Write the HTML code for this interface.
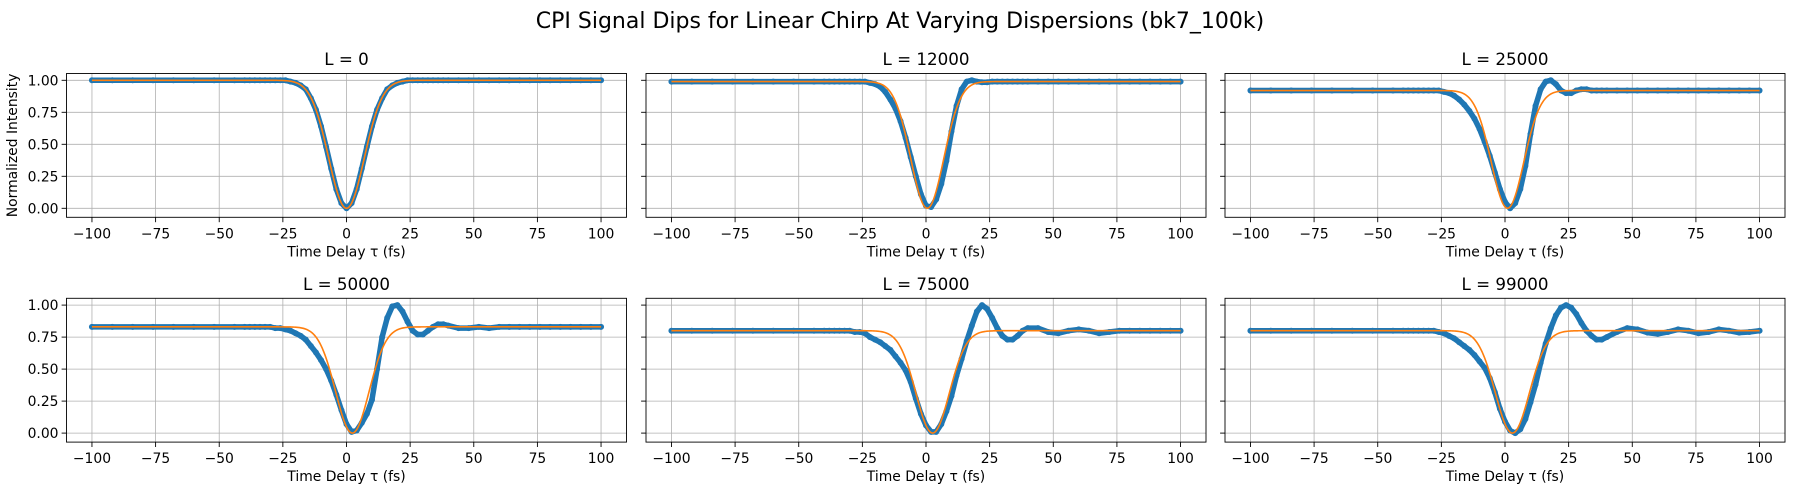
<!DOCTYPE html>
<html><head><meta charset="utf-8"><style>
html,body{margin:0;padding:0;background:#fff;}
svg{display:block;font-family:"DejaVu Sans","Liberation Sans",sans-serif;}
</style></head><body>
<svg id="fig" width="1800" height="500" viewBox="0 0 1800 500">
<rect width="1800" height="500" fill="#fff"/>
<text x="900" y="28" text-anchor="middle" font-size="22" fill="#000">CPI Signal Dips for Linear Chirp At Varying Dispersions (bk7_100k)</text>
</svg>
<script>
const panelTitles = ["L = 0","L = 12000","L = 25000","L = 50000","L = 75000","L = 99000"];
const xTicks = [-100,-75,-50,-25,0,25,50,75,100];
const yTicks = [0,0.25,0.5,0.75,1.0];
const yTickLabels = ["0.00","0.25","0.50","0.75","1.00"];
const delays = [-100,-92,-84,-76,-68,-60,-52,-44,
 -40,-38,-36,-34,-32,-30,-28,-26,-24,-22,-20,-18,-16,-14,-12,-10,-8,-6,-4,-2,0,2,4,6,8,10,12,14,16,18,20,22,24,26,28,30,32,34,36,38,40,
 44,48,52,56,60,64,68,72,76,80,84,88,92,96,100];
const sig0 = [1,1,1,1,1,1,1,1,
 1,1,1,1,1,1,1,1, 1,.99,.98,.96,.93,.86,.77,.64,.48,.31,.15,.04, 0, .04,.15,.31,.48,.64,.77,.86,.93,.96,.98,.99,1, 1,1,1,1,1,1,1,1,
 1,1,1,1,1,1,1,1,1,1,1,1,1,1,1];
const sig12000 = [.99,.99,.99,.99,.99,.99,.99,.99,
 .99,.99,.99,.99,.99,.99,.99,.99, .99,.98,.97,.95,.91,.85,.78,.68,.55,.40,.25,.11, .02, .01,.07,.19,.37,.60,.80,.93,.99,1.00,.99,.985,.985, .99,.99,.99,.99,.99,.99,.99,.99,
 .99,.99,.99,.99,.99,.99,.99,.99,.99,.99,.99,.99,.99,.99,.99];
const sig25000 = [.92,.92,.92,.92,.92,.92,.92,.92,
 .92,.92,.92,.92,.92,.92,.92,.92, .91,.90,.88,.85,.81,.76,.70,.62,.52,.41,.28,.15, .05, .00,.04,.15,.33,.58,.80,.93,.99,1.00,.97,.92,.90, .90,.92,.93,.93,.92,.92,.92,.92,
 .92,.92,.92,.92,.92,.92,.92,.92,.92,.92,.92,.92,.92,.92,.92];
const sig50000 = [.83,.83,.83,.83,.83,.83,.83,.83,
 .83,.83,.83,.83,.83,.83,.82,.82,.81,.80,.78,.76,.73,.68,.63,.57,.50,.41,.30,.18, .07, .01,.02,.08,.15,.26,.50,.75,.90,.99,1.00,.95,.87,.80,.77,.77,.80,.83,.85,.85,.84,
 .82,.82,.83,.82,.83,.83,.83,.83,.83,.83,.83,.83,.83,.83,.83];
const sig75000 = [.80,.80,.80,.80,.80,.80,.80,.80,
 .80,.80,.80,.80,.80,.80,.79,.79,.78,.75,.73,.71,.68,.65,.60,.55,.49,.40,.27,.15, .06, .01,.01,.07,.17,.29,.45,.58,.72,.84,.95,1.00,.97,.90,.82,.76,.73,.73,.76,.80,.82,
 .82,.79,.78,.80,.81,.80,.78,.79,.80,.80,.80,.80,.80,.80,.80];
const sig99000 = [.80,.80,.80,.80,.80,.80,.80,.80,
 .80,.80,.80,.80,.80,.80,.80,.79,.78,.76,.74,.71,.68,.65,.61,.56,.51,.43,.32,.19, .09, .02,.00,.03,.11,.24,.38,.55,.70,.82,.92,.98,1.00,.98,.93,.86,.80,.76,.73,.73,.75,
 .79,.82,.81,.785,.775,.79,.81,.80,.78,.79,.81,.80,.785,.79,.80];
const signals = [sig0,sig12000,sig25000,sig50000,sig75000,sig99000];
const fitBase = [1.00,0.99,0.92,0.83,0.80,0.80];
const fitCenter = [0,0.5,1.0,2.3,2.6,2.9];
const fitSigma = [7.0,6.5,6.4,6.6,6.6,6.7];

const NS="http://www.w3.org/2000/svg";
const svg=document.getElementById('fig');
function mk(tag,attrs,parent){const e=document.createElementNS(NS,tag);for(const k in attrs)e.setAttribute(k,attrs[k]);(parent||svg).appendChild(e);return e;}
const lefts=[66.5,646,1225], tops=[73.5,298.3], W=560, H=143.8;
const xMin=-110,xMax=110,yMin=-0.0703,yMax=1.0531;
function fmt(v){return v<0?"\u2212"+Math.abs(v):String(v);}

for(let p=0;p<6;p++){
  const L=lefts[p%3], T=tops[Math.floor(p/3)];
  const xs=t=>L+(t-xMin)/(xMax-xMin)*W;
  const ys=v=>T+(yMax-v)/(yMax-yMin)*H;
  const g=mk('g',{});
  
  
  // grid
  xTicks.forEach(t=>{const l=mk('line',{x1:xs(t),x2:xs(t),y1:T,y2:T+H,stroke:'#b0b0b0','stroke-width':0.8},g);
    
    });
  yTicks.forEach(v=>{const l=mk('line',{x1:L,x2:L+W,y1:ys(v),y2:ys(v),stroke:'#b0b0b0','stroke-width':0.8},g);
    
    });
  // data
  const sig=signals[p];
  const pts=delays.map((t,i)=>xs(t).toFixed(2)+','+ys(sig[i]).toFixed(2)).join(' ');
  const pl=mk('polyline',{points:pts,fill:'none',stroke:'#1f77b4','stroke-width':5.5,'stroke-linejoin':'round','stroke-linecap':'round'},g);
  
  
  delays.forEach((t,i)=>{const c=mk('circle',{cx:xs(t),cy:ys(sig[i]),r:3,fill:'#1f77b4'},g);
    
    });
  // fit
  const fp=[];
  for(let t=-100;t<=100.001;t+=0.5){const v=fitBase[p]*(1-Math.exp(-Math.pow(t-fitCenter[p],2)/(2*fitSigma[p]*fitSigma[p])));fp.push(xs(t).toFixed(2)+','+ys(v).toFixed(2));}
  const fl=mk('polyline',{points:fp.join(' '),fill:'none',stroke:'#ff7f0e','stroke-width':1.6},g);
  
  
  // frame
  const fr=mk('rect',{x:L,y:T,width:W,height:H,fill:'none',stroke:'#000','stroke-width':0.9},g);
  
  
  // x ticks
  xTicks.forEach(t=>{
    mk('line',{x1:xs(t),x2:xs(t),y1:T+H,y2:T+H+4.9,stroke:'#000','stroke-width':0.9},g);
    const tx=mk('text',{x:xs(t),y:T+H+21,'text-anchor':'middle','font-size':13.9,fill:'#000'},g);
    tx.textContent=fmt(t);
    
    
  });
  yTicks.forEach((v,i)=>{
    mk('line',{x1:L-4.9,x2:L,y1:ys(v),y2:ys(v),stroke:'#000','stroke-width':0.9},g);
    if(p%3===0){const ty=mk('text',{x:L-8,y:ys(v)+5,'text-anchor':'end','font-size':13.9,fill:'#000'},g);
      ty.textContent=yTickLabels[i];
      
      }
  });
  const xl=mk('text',{x:L+W/2,y:T+H+39,'text-anchor':'middle','font-size':13.9,fill:'#000'},g);
  xl.textContent='Time Delay \u03c4 (fs)';
  
  
  const tt=mk('text',{x:L+W/2,y:T-8.5,'text-anchor':'middle','font-size':16.7,fill:'#000'},g);
  tt.textContent=panelTitles[p];
  
  
  if(p===0){
    const yl=mk('text',{x:0,y:0,'text-anchor':'middle','font-size':13.9,fill:'#000',transform:'translate(17,'+(T+H/2)+') rotate(-90)'},g);
    yl.textContent='Normalized Intensity';
    
    
  }
}
</script>
</body></html>
